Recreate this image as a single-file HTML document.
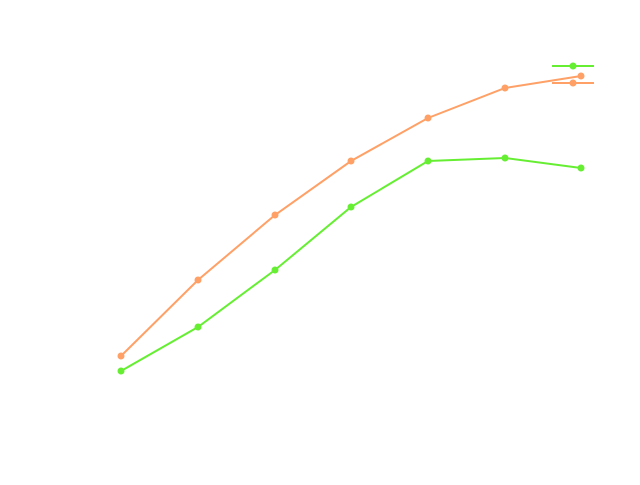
<!DOCTYPE html>
<html><head><style>body{margin:0;background:#fff}</style></head><body>
<svg width="640" height="480" xmlns="http://www.w3.org/2000/svg">
<rect width="640" height="480" fill="#fff"/>
<g fill="none" stroke-width="2">
<polyline stroke="#66ee33" points="121,371 198,327 275,270 351,207 428,161 505,158 581,168"/>
<polyline stroke="#ffa066" points="121,356 198,280 275,215 351,161 428,118 505,88 581,76"/>
<line x1="552" y1="66" x2="594" y2="66" stroke="#66ee33"/>
<line x1="552" y1="83" x2="594" y2="83" stroke="#ffa066"/>
</g>
<g fill="#66ee33">
<circle cx="121" cy="371" r="3.5"/><circle cx="198" cy="327" r="3.5"/><circle cx="275" cy="270" r="3.5"/><circle cx="351" cy="207" r="3.5"/><circle cx="428" cy="161" r="3.5"/><circle cx="505" cy="158" r="3.5"/><circle cx="581" cy="168" r="3.5"/><circle cx="573" cy="66" r="3.5"/>
</g>
<g fill="#ffa066">
<circle cx="121" cy="356" r="3.5"/><circle cx="198" cy="280" r="3.5"/><circle cx="275" cy="215" r="3.5"/><circle cx="351" cy="161" r="3.5"/><circle cx="428" cy="118" r="3.5"/><circle cx="505" cy="88" r="3.5"/><circle cx="581" cy="76" r="3.5"/><circle cx="573" cy="83" r="3.5"/>
</g>
</svg>
</body></html>
